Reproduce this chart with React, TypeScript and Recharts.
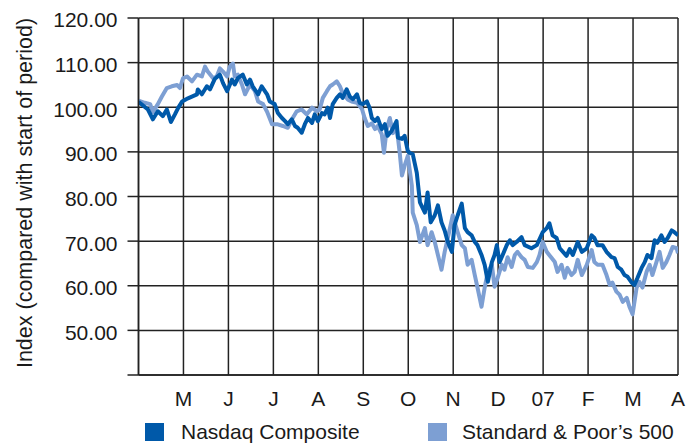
import React from "react";
import { LineChart, Line, XAxis, YAxis, CartesianGrid, Legend } from "recharts";

// x = months since start of period (0 = start, 12 = end), y = index value
const monthTicks = [0, 1, 2, 3, 4, 5, 6, 7, 8, 9, 10, 11, 12];
const monthLabels = ["", "M", "J", "J", "A", "S", "O", "N", "D", "07", "F", "M", "A"];
const valueTicks = [40, 50, 60, 70, 80, 90, 100, 110, 120];

const nasdaqMonths = [
  0.0, 0.21, 0.32, 0.43, 0.54, 0.63, 0.72, 0.81, 0.88, 0.97, 1.1, 1.3, 1.32, 1.41, 1.52, 1.59,
  1.7, 1.81, 1.88, 1.97, 2.08, 2.14, 2.21, 2.32, 2.41, 2.48, 2.54, 2.66, 2.74, 2.86, 2.92, 3.03,
  3.1, 3.19, 3.26, 3.32, 3.41, 3.48, 3.54, 3.63, 3.7, 3.77, 3.86, 3.92, 3.99, 4.08, 4.14, 4.21,
  4.26, 4.32, 4.41, 4.48, 4.54, 4.63, 4.7, 4.77, 4.86, 4.92, 4.99, 5.08, 5.14, 5.19, 5.26, 5.32,
  5.41, 5.48, 5.54, 5.63, 5.74, 5.77, 5.86, 5.92, 5.99, 6.03, 6.1, 6.19, 6.26, 6.37, 6.43, 6.5,
  6.59, 6.66, 6.74, 6.81, 6.88, 6.97, 7.03, 7.1, 7.19, 7.26, 7.32, 7.41, 7.48, 7.54, 7.63, 7.7,
  7.77, 7.86, 7.92, 7.97, 8.03, 8.1, 8.19, 8.26, 8.32, 8.41, 8.52, 8.59, 8.74, 8.86, 8.99, 9.08,
  9.14, 9.21, 9.3, 9.37, 9.52, 9.59, 9.66, 9.77, 9.86, 9.97, 10.08, 10.14, 10.21, 10.32, 10.41,
  10.52, 10.59, 10.66, 10.74, 10.81, 10.88, 10.97, 11.03, 11.1, 11.19, 11.26, 11.32, 11.41, 11.48,
  11.54, 11.63, 11.7, 11.77, 11.86, 11.92, 12.0,
];
const nasdaqValues = [
  101.2, 99.5, 97.3, 99.1, 98.0, 99.5, 96.7, 98.4, 99.8, 101.3, 102.0, 102.9, 104.0, 102.9, 104.7, 104.0,
  106.4, 107.3, 105.4, 103.6, 106.2, 105.1, 106.5, 107.3, 105.1, 106.2, 104.7, 102.9, 104.7, 102.9, 101.3, 100.7,
  98.7, 97.6, 96.9, 96.2, 97.3, 95.8, 95.4, 94.3, 96.2, 97.6, 96.5, 98.4, 96.9, 98.7, 98.4, 99.9,
  97.6, 100.7, 102.1, 102.9, 102.1, 104.0, 102.4, 101.8, 102.9, 101.0, 100.7, 101.3, 99.9, 97.6, 96.9, 97.6,
  95.1, 96.2, 93.6, 94.7, 96.9, 93.2, 92.9, 93.6, 90.2, 89.8, 89.5, 85.3, 78.7, 76.4, 80.9, 74.2,
  75.8, 78.0, 74.2, 72.4, 69.8, 67.6, 73.6, 75.8, 78.4, 72.9, 72.0, 71.3, 69.8, 69.1, 66.9, 64.7,
  60.9, 65.3, 66.9, 69.1, 65.3, 66.9, 69.1, 70.2, 69.1, 69.8, 70.9, 69.1, 68.4, 69.1, 72.0, 72.9,
  74.0, 71.3, 70.7, 68.4, 66.7, 68.2, 66.9, 69.8, 67.6, 68.4, 71.3, 70.7, 69.1, 69.1, 67.6,
  66.4, 66.2, 64.2, 63.6, 62.4, 62.0, 60.7, 60.2, 61.8, 64.0, 65.3, 66.9, 66.2, 70.2,
  69.6, 71.3, 69.8, 70.7, 72.4, 72.0, 71.3,
];

const spMonths = [
  0.0, 0.14, 0.26, 0.32, 0.43, 0.52, 0.63, 0.74, 0.86, 0.92, 0.99, 1.08, 1.19, 1.3, 1.41, 1.48,
  1.54, 1.66, 1.74, 1.81, 1.88, 1.97, 2.03, 2.1, 2.14, 2.21, 2.3, 2.37, 2.48, 2.59, 2.66, 2.77,
  2.86, 2.97, 3.08, 3.21, 3.32, 3.43, 3.52, 3.63, 3.74, 3.86, 3.97, 4.03, 4.1, 4.19, 4.26, 4.32,
  4.41, 4.48, 4.54, 4.66, 4.74, 4.86, 4.97, 5.03, 5.1, 5.19, 5.26, 5.32, 5.41, 5.46, 5.52, 5.59,
  5.66, 5.74, 5.81, 5.86, 5.92, 5.99, 6.08, 6.1, 6.19, 6.26, 6.37, 6.43, 6.52, 6.59, 6.66, 6.74,
  6.81, 6.88, 6.99, 7.1, 7.19, 7.26, 7.32, 7.41, 7.48, 7.54, 7.63, 7.7, 7.77, 7.86, 7.92, 7.99,
  8.08, 8.14, 8.21, 8.3, 8.37, 8.43, 8.52, 8.59, 8.66, 8.77, 8.86, 8.92, 8.99, 9.08, 9.19, 9.26,
  9.32, 9.41, 9.48, 9.54, 9.63, 9.7, 9.77, 9.86, 9.97, 10.08, 10.14, 10.21, 10.32, 10.41, 10.48,
  10.54, 10.63, 10.7, 10.77, 10.86, 10.92, 10.99, 11.08, 11.14, 11.21, 11.3, 11.37, 11.43, 11.52,
  11.59, 11.66, 11.74, 11.81, 11.88, 11.97, 12.0,
];
const spValues = [
  101.5, 101.0, 100.7, 98.9, 100.7, 102.4, 104.3, 104.7, 105.0, 104.3, 106.5, 106.9, 105.8, 107.3, 106.9, 109.1,
  108.0, 106.5, 106.9, 108.7, 108.0, 106.9, 109.1, 109.8, 106.9, 107.3, 105.1, 102.9, 105.1, 103.6, 101.3, 100.7,
  99.0, 96.2, 96.2, 95.8, 95.4, 97.6, 99.1, 99.5, 98.4, 99.9, 99.1, 99.5, 102.1, 103.6, 104.7, 105.1,
  105.8, 104.7, 103.2, 101.7, 101.3, 101.0, 99.6, 97.6, 95.8, 96.4, 95.1, 95.8, 94.0, 89.8, 95.1, 97.6,
  94.2, 95.8, 89.8, 84.7, 86.9, 89.1, 82.4, 76.4, 73.6, 69.8, 72.9, 69.1, 72.0, 69.8, 66.9, 63.6,
  67.6, 70.7, 75.8, 72.0, 69.1, 68.4, 64.7, 65.8, 62.4, 59.6, 55.3, 59.6, 63.1, 64.7, 59.8, 61.8,
  64.7, 63.6, 66.4, 64.2, 66.9, 67.6, 66.4, 65.8, 64.2, 64.0, 65.3, 66.9, 69.8, 67.6, 66.2, 65.3,
  63.1, 64.7, 61.8, 64.0, 62.4, 63.1, 65.8, 62.4, 64.7, 68.0, 65.3, 64.7, 64.7, 62.4, 60.2,
  60.7, 58.7, 58.0, 56.4, 57.3, 55.3, 53.6, 59.6, 60.9, 59.6, 63.1, 64.7, 62.4, 65.3,
  67.6, 64.0, 65.3, 66.9, 68.7, 68.4, 67.3,
];

const nasdaqData = nasdaqMonths.map((m, i) => ({ m, v: nasdaqValues[i] }));
const spData = spMonths.map((m, i) => ({ m, v: spValues[i] }));

const DARK = "#0059a9";
const LIGHT = "#7d9fd3";
const GRID = "#222222";
const FONT = '"Liberation Sans", Arial, Helvetica, sans-serif';

const YLabel = () => (
  <text
    x={25}
    y={193}
    transform="rotate(-90, 25, 193)"
    textAnchor="middle"
    dominantBaseline="central"
    fontSize={21.5}
    fill="#1a1a1a"
    fontFamily={FONT}
  >
    Index (compared with start of period)
  </text>
);

const LegendBox = () => (
  <div style={{ position: "relative", width: 686, height: 42, fontFamily: FONT, fontSize: 21, color: "#1a1a1a" }}>
    <div style={{ position: "absolute", left: 145, top: 18, width: 19, height: 18, background: DARK }} />
    <div style={{ position: "absolute", left: 181, top: 15, lineHeight: "24px", whiteSpace: "nowrap" }}>
      Nasdaq Composite
    </div>
    <div style={{ position: "absolute", left: 428, top: 18, width: 19, height: 18, background: LIGHT }} />
    <div style={{ position: "absolute", left: 462, top: 15, lineHeight: "24px", whiteSpace: "nowrap" }}>
      Standard &amp; Poor’s 500
    </div>
  </div>
);

export default function App() {
  return (
    <div style={{ position: "absolute", left: 0, top: 0, background: "#fff" }}>
      <LineChart
        width={686}
        height={447}
        margin={{ top: 18, right: 8, bottom: 0, left: 0 }}
        style={{ fontFamily: FONT }}
      >
        <CartesianGrid stroke={GRID} strokeWidth={1.5} />
        <XAxis
          type="number"
          dataKey="m"
          domain={[0, 12]}
          ticks={monthTicks}
          tickFormatter={(v: number) => monthLabels[v] ?? ""}
          allowDataOverflow
          height={30}
          tickLine={false}
          axisLine={{ stroke: GRID, strokeWidth: 1.5 }}
          tickMargin={10}
          tick={{ fontSize: 21, fill: "#1a1a1a", fontFamily: FONT }}
          interval={0}
        />
        <YAxis
          type="number"
          domain={[40, 120]}
          ticks={valueTicks}
          tickFormatter={(v: number) => (v === 40 ? "" : v.toFixed(2))}
          width={138.5}
          tickSize={11}
          tickMargin={10}
          tickLine={{ stroke: GRID, strokeWidth: 1.5 }}
          axisLine={{ stroke: GRID, strokeWidth: 1.5 }}
          tick={{ fontSize: 21, fill: "#1a1a1a", fontFamily: FONT, dy: 2 }}
          interval={0}
          label={<YLabel />}
        />
        <Legend verticalAlign="bottom" align="left" height={42} content={() => <LegendBox />} />
        <Line
          data={spData}
          dataKey="v"
          type="linear"
          stroke={LIGHT}
          strokeWidth={4}
          strokeLinejoin="round"
          dot={false}
          isAnimationActive={false}
        />
        <Line
          data={nasdaqData}
          dataKey="v"
          type="linear"
          stroke={DARK}
          strokeWidth={4}
          strokeLinejoin="round"
          dot={false}
          isAnimationActive={false}
        />
      </LineChart>
    </div>
  );
}
